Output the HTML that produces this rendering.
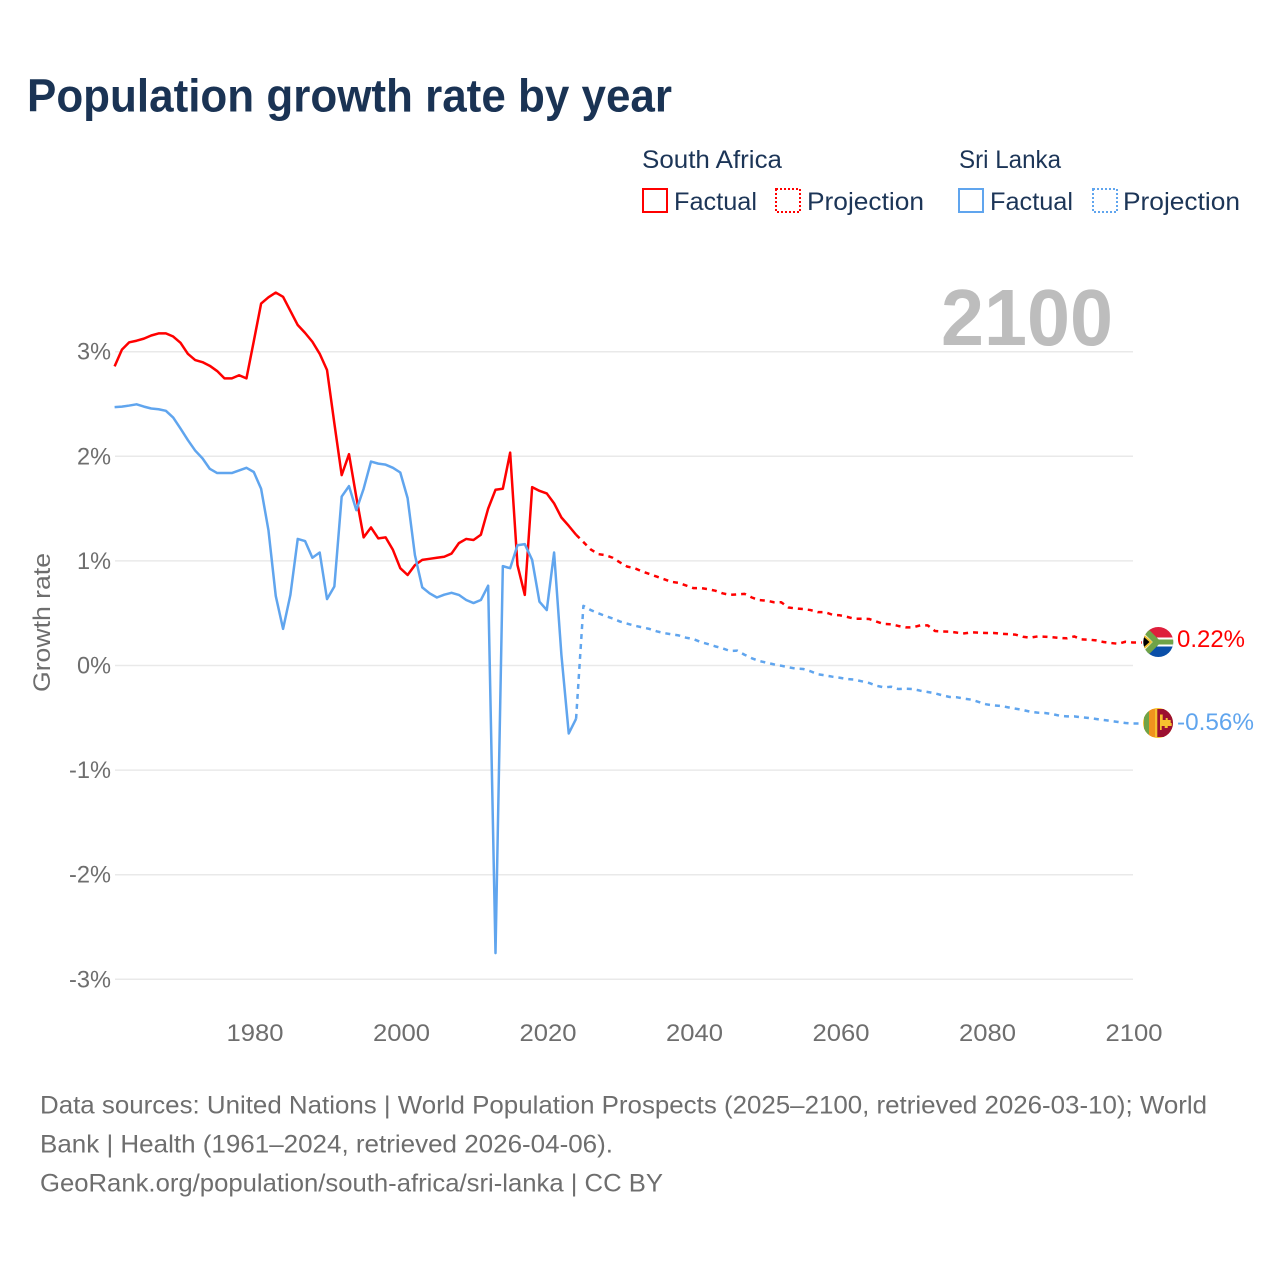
<!DOCTYPE html>
<html lang="en">
<head>
<meta charset="utf-8">
<title>Population growth rate by year</title>
<style>
html,body{margin:0;padding:0;background:#fff;width:1280px;height:1280px;overflow:hidden}
svg{display:block}
text{font-family:"Liberation Sans",sans-serif}
.tick{font-size:24px;fill:#6e6e6e}
.foot{font-size:25px;fill:#6e6e6e}
.leg{font-size:25px;fill:#1c3557}
</style>
</head>
<body>
<svg id="chart" xmlns="http://www.w3.org/2000/svg" width="1280" height="1280" viewBox="0 0 1280 1280">
  <defs>
    <clipPath id="flag-clip-za"><circle cx="1158.3" cy="642" r="15"/></clipPath>
    <clipPath id="flag-clip-lk"><circle cx="1158" cy="723" r="15"/></clipPath>
  </defs>
  <text x="27" y="111.5" font-size="46" font-weight="700" fill="#1a3354" textLength="645" lengthAdjust="spacingAndGlyphs">Population growth rate by year</text>

  <g>
    <text class="leg" x="642" y="168" textLength="140" lengthAdjust="spacingAndGlyphs">South Africa</text>
    <text class="leg" x="959" y="168" textLength="102" lengthAdjust="spacingAndGlyphs">Sri Lanka</text>
    <rect x="643" y="189" width="24" height="23" fill="none" stroke="#ff0000" stroke-width="2"/>
    <text class="leg" x="674" y="210" textLength="83" lengthAdjust="spacingAndGlyphs">Factual</text>
    <rect x="776" y="189" width="24" height="23" fill="none" stroke="#ff0000" stroke-width="2" stroke-dasharray="2 2"/>
    <text class="leg" x="807" y="210" textLength="117" lengthAdjust="spacingAndGlyphs">Projection</text>
    <rect x="959" y="189" width="24" height="23" fill="none" stroke="#60a5ee" stroke-width="2"/>
    <text class="leg" x="990" y="210" textLength="83" lengthAdjust="spacingAndGlyphs">Factual</text>
    <rect x="1093" y="189" width="24" height="23" fill="none" stroke="#60a5ee" stroke-width="2" stroke-dasharray="2 2"/>
    <text class="leg" x="1123" y="210" textLength="117" lengthAdjust="spacingAndGlyphs">Projection</text>
  </g>

  <g id="grid"></g>
  <text x="941" y="345" font-size="80" font-weight="700" fill="#bdbdbd" textLength="172" lengthAdjust="spacingAndGlyphs">2100</text>
  <g id="y-ticks"></g>
  <g id="x-ticks"></g>
  <text transform="translate(50 692) rotate(-90)" x="0" y="0" font-size="24" fill="#6e6e6e" textLength="139" lengthAdjust="spacingAndGlyphs">Growth rate</text>
  <g id="series"></g>

  <g clip-path="url(#flag-clip-za)">
    <rect x="1143" y="627" width="31" height="15" fill="#de1f3c"/>
    <rect x="1143" y="642" width="31" height="16" fill="#0a4fa8"/>
    <path d="M1143 627 L1158 642 L1143 657 Z" fill="#fff"/>
    <rect x="1157" y="637.5" width="17" height="9" fill="#fff"/>
    <path d="M1141 626 L1157 642 L1141 658" fill="none" stroke="#6fa347" stroke-width="6"/>
    <rect x="1156" y="639.5" width="18" height="5" fill="#6fa347"/>
    <path d="M1141 633 L1151 642 L1141 651 Z" fill="#000" stroke="#f3c331" stroke-width="2"/>
  </g>
  <g clip-path="url(#flag-clip-lk)">
    <rect x="1143" y="708" width="30" height="30" fill="#f6c12f"/>
    <rect x="1144" y="709" width="5" height="28" fill="#6fa347"/>
    <rect x="1149" y="709" width="6" height="28" fill="#f0931e"/>
    <rect x="1157.3" y="709" width="16" height="28" fill="#9c1030"/>
    <path d="M1160 714.5 h2.7 v5.5 h3 v-2 h2 v2 h3 v3 h1 v3 h-4 v2 h-3 v-2 h-3 v4 h-1.7 z" fill="#f6c12f"/>
  </g>
  <text x="1177" y="647" font-size="24" fill="#ff0000" textLength="68" lengthAdjust="spacingAndGlyphs">0.22%</text>
  <text x="1177" y="730" font-size="24" fill="#60a5ee" textLength="77" lengthAdjust="spacingAndGlyphs">-0.56%</text>

  <g>
    <text class="foot" x="40" y="1113.5" textLength="1167" lengthAdjust="spacingAndGlyphs">Data sources: United Nations | World Population Prospects (2025–2100, retrieved 2026-03-10); World</text>
    <text class="foot" x="40" y="1152.5" textLength="573" lengthAdjust="spacingAndGlyphs">Bank | Health (1961–2024, retrieved 2026-04-06).</text>
    <text class="foot" x="40" y="1191.5" textLength="623" lengthAdjust="spacingAndGlyphs">GeoRank.org/population/south-africa/sri-lanka | CC BY</text>
  </g>
</svg>
<script>
const yTickValues = [3, 2, 1, 0, -1, -2, -3];
const xTickYears = [1980, 2000, 2020, 2040, 2060, 2080, 2100];
const factualStartYear = 1961;
const projectionStartYear = 2025;
const southAfricaFactual = [2.86,3.02,3.09,3.105,3.125,3.155,3.175,3.175,3.145,3.085,2.98,2.92,2.90,2.865,2.815,2.745,2.745,2.775,2.745,3.10,3.46,3.52,3.565,3.525,3.39,3.255,3.18,3.095,2.98,2.825,2.315,1.82,2.02,1.61,1.225,1.32,1.215,1.225,1.105,0.93,0.865,0.96,1.01,1.02,1.03,1.04,1.07,1.17,1.21,1.20,1.25,1.50,1.68,1.69,2.035,0.96,0.675,1.705,1.67,1.645,1.55,1.415,1.335,1.25];
const southAfricaProjection = [1.18,1.11,1.065,1.055,1.03,0.985,0.945,0.93,0.90,0.875,0.85,0.825,0.80,0.79,0.765,0.74,0.74,0.73,0.715,0.69,0.675,0.68,0.685,0.65,0.625,0.62,0.605,0.605,0.555,0.545,0.54,0.53,0.51,0.51,0.485,0.48,0.465,0.447,0.447,0.445,0.42,0.397,0.394,0.378,0.365,0.365,0.384,0.384,0.33,0.325,0.323,0.314,0.307,0.317,0.314,0.311,0.311,0.304,0.30,0.295,0.275,0.266,0.278,0.275,0.27,0.263,0.26,0.278,0.25,0.247,0.24,0.225,0.215,0.208,0.227,0.22];
const sriLankaFactual = [2.47,2.475,2.485,2.497,2.475,2.457,2.45,2.435,2.37,2.265,2.155,2.055,1.98,1.88,1.84,1.84,1.84,1.865,1.89,1.85,1.69,1.295,0.665,0.35,0.675,1.21,1.19,1.03,1.08,0.635,0.755,1.615,1.715,1.485,1.69,1.95,1.93,1.92,1.89,1.845,1.6,1.055,0.747,0.69,0.65,0.677,0.695,0.675,0.626,0.597,0.626,0.763,-2.75,0.95,0.93,1.15,1.16,1.01,0.61,0.53,1.08,0.1,-0.65,-0.51];
const sriLankaProjection = [0.57,0.53,0.50,0.473,0.45,0.42,0.40,0.38,0.365,0.35,0.327,0.31,0.298,0.288,0.266,0.253,0.225,0.205,0.183,0.164,0.139,0.142,0.103,0.069,0.043,0.027,0.011,-0.002,-0.017,-0.03,-0.033,-0.055,-0.084,-0.094,-0.107,-0.117,-0.129,-0.135,-0.151,-0.167,-0.193,-0.209,-0.203,-0.225,-0.222,-0.225,-0.241,-0.253,-0.266,-0.285,-0.301,-0.304,-0.317,-0.327,-0.349,-0.371,-0.381,-0.387,-0.40,-0.413,-0.425,-0.442,-0.451,-0.454,-0.464,-0.48,-0.486,-0.486,-0.495,-0.502,-0.511,-0.521,-0.53,-0.54,-0.55,-0.555];

const NS = 'http://www.w3.org/2000/svg';
function xScale(year) { return 114.6 + (year - 1961) * 7.325; }
function yScale(pct) { return 665.5 - pct * 104.6; }
function labelWidth(s) {
  let w = 0;
  for (const c of s) w += c === '%' ? 19.75 : c === '-' ? 8 : 14.25;
  return w;
}
function toPoints(values, startYear) {
  return values.map((v, i) => [xScale(startYear + i), yScale(v)]);
}
function toPath(points) {
  return points.map((p, i) => (i ? 'L' : 'M') + p[0].toFixed(2) + ' ' + p[1].toFixed(2)).join(' ');
}

const grid = document.getElementById('grid');
const yTicks = document.getElementById('y-ticks');
yTickValues.forEach(v => {
  const line = document.createElementNS(NS, 'line');
  
  
  line.setAttribute('x1', 115);
  line.setAttribute('x2', 1133);
  line.setAttribute('y1', yScale(v));
  line.setAttribute('y2', yScale(v));
  line.setAttribute('stroke', '#e9e9e9');
  line.setAttribute('stroke-width', '1.5');
  grid.appendChild(line);
  const t = document.createElementNS(NS, 'text');
  
  
  const s = v + '%';
  t.setAttribute('class', 'tick');
  t.setAttribute('x', 111 - labelWidth(s));
  t.setAttribute('y', yScale(v) + 8);
  t.setAttribute('textLength', labelWidth(s));
  t.setAttribute('lengthAdjust', 'spacingAndGlyphs');
  t.textContent = s;
  yTicks.appendChild(t);
});

const xTicks = document.getElementById('x-ticks');
xTickYears.forEach(yr => {
  const t = document.createElementNS(NS, 'text');
  
  
  t.setAttribute('class', 'tick');
  t.setAttribute('x', xScale(yr) + 1.2 - 28.5);
  t.setAttribute('y', 1041);
  t.setAttribute('textLength', 57);
  t.setAttribute('lengthAdjust', 'spacingAndGlyphs');
  t.textContent = String(yr);
  xTicks.appendChild(t);
});

const seriesGroup = document.getElementById('series');
function addLine(name, d, color, dash) {
  const p = document.createElementNS(NS, 'path');
  
  
  p.setAttribute('d', d);
  p.setAttribute('fill', 'none');
  p.setAttribute('stroke', color);
  p.setAttribute('stroke-width', '2.5');
  p.setAttribute('stroke-linejoin', 'round');
  if (dash) p.setAttribute('stroke-dasharray', dash);
  seriesGroup.appendChild(p);
}
function drawCountry(slug, factual, projection, color) {
  const f = toPoints(factual, factualStartYear);
  const pr = toPoints(projection, projectionStartYear);
  const last = pr[pr.length - 1];
  const projPts = [f[f.length - 1]].concat(pr, [[last[0] + 9, last[1]]]);
  addLine(slug + '-projection-line', toPath(projPts), color, '5 5');
  addLine(slug + '-factual-line', toPath(f), color, null);
}
drawCountry('south-africa', southAfricaFactual, southAfricaProjection, '#ff0000');
drawCountry('sri-lanka', sriLankaFactual, sriLankaProjection, '#60a5ee');
</script>
</body>
</html>
